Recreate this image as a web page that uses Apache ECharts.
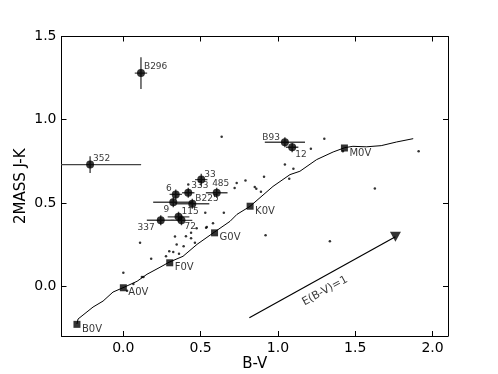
<!DOCTYPE html>
<html>
<head>
<meta charset="utf-8">
<script src="https://cdn.jsdelivr.net/npm/echarts@6/dist/echarts.min.js"></script>
<style>
html, body { margin: 0; padding: 0; background: #fff; }
#chart { width: 498px; height: 374px; }
</style>
</head>
<body>
<div id="chart"></div>
<script>
'use strict';

var xTicks = [0, 0.5, 1.0, 1.5, 2.0];
var yTicks = [0, 0.5, 1.0, 1.5];

// intrinsic colours of dwarfs
var sptNames = ['B0V', 'A0V', 'F0V', 'G0V', 'K0V', 'M0V'];
var sptBV = [-0.30, 0.00, 0.30, 0.59, 0.82, 1.43];
var sptJK = [-0.23, -0.01, 0.14, 0.32, 0.48, 0.83];

// main sequence track
var seqBV = [-0.30, -0.293, -0.196, -0.131, -0.067, 0.005, 0.089, 0.153, 0.237, 0.295, 0.386, 0.477,
    0.541, 0.587, 0.69, 0.735, 0.819, 0.968, 1.078, 1.142, 1.25, 1.357, 1.433, 1.485, 1.571, 1.668, 1.767, 1.875];
var seqJK = [-0.228, -0.198, -0.126, -0.090, -0.036, -0.007, 0.029, 0.071, 0.113, 0.143, 0.179, 0.251,
    0.293, 0.323, 0.389, 0.431, 0.479, 0.599, 0.670, 0.69, 0.76, 0.806, 0.832, 0.84, 0.837, 0.844, 0.866, 0.886];

// labelled stars with errors
var starNames = ['B296', '352', '33', '333', '485', '6', '9', 'B225', '115', '72', '337', 'B93', '12'];
var starBV = [0.114, -0.215, 0.504, 0.42, 0.604, 0.339, 0.323, 0.446, 0.357, 0.376, 0.242, 1.045, 1.092];
var starJK = [1.28, 0.73, 0.64, 0.561, 0.561, 0.551, 0.504, 0.495, 0.416, 0.395, 0.396, 0.864, 0.834];
var starBVErr = [0.04, 0.33, 0.04, 0.04, 0.07, 0.04, 0.13, 0.11, 0.07, 0.07, 0.09, 0.13, 0.04];
var starJKErr = [0.095, 0.05, 0.035, 0.03, 0.03, 0.03, 0.03, 0.03, 0.03, 0.03, 0.03, 0.03, 0.03];

// field stars
var fieldBV = [0.636, 1.30, 1.213, 1.045, 1.10, 1.073, 0.91, 0.79, 0.733, 0.72, 0.85, 0.86, 0.89, 0.53,
    0.65, 0.535, 0.58, 1.91, 1.627, 1.336, 0.92, 0.42, 0.474, 0.438, 0.54, 0.334, 0.405, 0.438, 0.345,
    0.39, 0.463, 0.108, 0.297, 0.323, 0.276, 0.36, 0.18, 0.12, 0.13, 0.065, 0.0, 1.42, 0.024];
var fieldJK = [0.897, 0.886, 0.825, 0.73, 0.705, 0.645, 0.657, 0.635, 0.62, 0.59, 0.595, 0.585, 0.567, 0.44,
    0.44, 0.35, 0.377, 0.81, 0.587, 0.27, 0.305, 0.61, 0.347, 0.32, 0.355, 0.298, 0.30, 0.287, 0.25,
    0.24, 0.26, 0.26, 0.21, 0.205, 0.18, 0.195, 0.165, 0.055, 0.055, 0.012, 0.08, 0.81, -0.028];

// reddening vector E(B-V)=1
var reddenBV = [0.815, 1.76];
var reddenJK = [-0.19, 0.296];
var reddenText = 'E(B-V)=1';

var FONT = 'DejaVu Sans';

// label placement around each star: [dx, dy, align]
var starLabelPos = {
    'B296': [3, -6, 'left'], '352': [3, -6, 'left'], '33': [3, -5, 'left'], '333': [3, -7, 'left'],
    '485': [4, -9, 'center'], '6': [-4, -6, 'right'], '9': [-4, 7, 'right'], 'B225': [3, -5, 'left'],
    '115': [3, -5, 'left'], '72': [3, 6, 'left'], '337': [-6, 7, 'right'], 'B93': [-5, -5, 'right'],
    '12': [3, 7, 'left']
};

function zip(a, b) {
    return a.map(function (v, i) { return [v, b[i]]; });
}

var chart = echarts.init(document.getElementById('chart'));

var starData = starNames.map(function (n, i) {
    var p = starLabelPos[n];
    return {
        name: n,
        value: [starBV[i], starJK[i]],
        label: { show: true, formatter: n, position: 'inside', offset: [p[0], p[1]], align: p[2],
            verticalAlign: 'middle', color: '#000', fontSize: 9, fontFamily: FONT }
    };
});

var sptData = sptNames.map(function (n, i) {
    return { name: n, value: [sptBV[i], sptJK[i]] };
});

var errData = starBV.map(function (v, i) {
    return [v, starJK[i], starBVErr[i], starJKErr[i]];
});

function mirrorAxis(pos, ticks, min, max) {
    return {
        type: 'value', position: pos, min: min, max: max,
        axisLine: { show: true, onZero: false, lineStyle: { color: '#000', width: 1 } },
        axisTick: { show: true, inside: true, length: 5, customValues: ticks, lineStyle: { color: '#000' } },
        axisLabel: { show: false },
        splitLine: { show: false }
    };
}

var option = {
    backgroundColor: '#fff',
    animation: false,
    grid: { left: 61.5, right: 50, top: 36.5, bottom: 38, outerBoundsMode: 'none', containLabel: false },
    xAxis: [
        {
            type: 'value', min: -0.4, max: 2.1, position: 'bottom',
            name: 'B-V', nameLocation: 'middle', nameGap: 21, nameMoveOverlap: false,
            nameTextStyle: { fontSize: 15, color: '#000', fontFamily: FONT },
            axisLine: { show: true, onZero: false, lineStyle: { color: '#000', width: 1 } },
            axisTick: { show: true, inside: true, length: 5, customValues: xTicks, lineStyle: { color: '#000' } },
            axisLabel: { customValues: xTicks, margin: 5, fontSize: 14, color: '#000', fontFamily: FONT,
                formatter: function (v) { return v.toFixed(1); } },
            splitLine: { show: false }
        },
        mirrorAxis('top', xTicks, -0.4, 2.1)
    ],
    yAxis: [
        {
            type: 'value', min: -0.3, max: 1.5, position: 'left',
            name: '2MASS J-K', nameLocation: 'middle', nameGap: 33, nameRotate: 90, nameMoveOverlap: false,
            nameTextStyle: { fontSize: 15, color: '#000', fontFamily: FONT },
            axisLine: { show: true, onZero: false, lineStyle: { color: '#000', width: 1 } },
            axisTick: { show: true, inside: true, length: 5, customValues: yTicks, lineStyle: { color: '#000' } },
            axisLabel: { customValues: yTicks, margin: 5, fontSize: 14, color: '#000', fontFamily: FONT,
                formatter: function (v) { return v.toFixed(1); } },
            splitLine: { show: false }
        },
        mirrorAxis('right', yTicks, -0.3, 1.5)
    ],
    series: [
        {
            type: 'line', data: zip(seqBV, seqJK), showSymbol: false, smooth: false,
            lineStyle: { color: '#000', width: 1 }, z: 2, silent: true
        },
        {
            type: 'scatter', data: sptData, symbol: 'rect', symbolSize: 7,
            itemStyle: { color: '#000' }, z: 4,
            label: { show: true, formatter: '{b}', position: 'inside', offset: [5, 5], align: 'left',
                verticalAlign: 'middle', color: '#000', fontSize: 10, fontFamily: FONT }
        },
        {
            type: 'scatter', data: zip(fieldBV, fieldJK), symbol: 'circle', symbolSize: 2.5,
            itemStyle: { color: '#000' }, z: 3
        },
        {
            type: 'custom', data: errData, clip: true, z: 3,
            encode: { x: 0, y: 1 },
            renderItem: function (params, api) {
                var x = api.value(0), y = api.value(1), ex = api.value(2), ey = api.value(3);
                var l = api.coord([x - ex, y]), r = api.coord([x + ex, y]);
                var t = api.coord([x, y + ey]), b = api.coord([x, y - ey]);
                var st = { stroke: '#444', lineWidth: 1.4 };
                return {
                    type: 'group',
                    children: [
                        { type: 'line', shape: { x1: l[0], y1: l[1], x2: r[0], y2: r[1] }, style: st },
                        { type: 'line', shape: { x1: t[0], y1: t[1], x2: b[0], y2: b[1] }, style: st }
                    ]
                };
            }
        },
        {
            type: 'scatter', data: starData, symbol: 'circle', symbolSize: 8,
            itemStyle: { color: '#000' }, z: 5
        },
        {
            type: 'line', data: zip(reddenBV, reddenJK), showSymbol: false,
            lineStyle: { color: '#000', width: 1.2 }, z: 3
        },
        {
            type: 'scatter', data: [[reddenBV[1], reddenJK[1]]], symbol: 'triangle', symbolRotate: 180,
            symbolSize: [11, 10], itemStyle: { color: '#000' }, z: 4
        },
        {
            type: 'scatter', data: [[1.304, -0.029]], symbolSize: 0, z: 4,
            label: { show: true, formatter: reddenText, position: 'inside', rotate: 29,
                color: '#000', fontSize: 11, fontFamily: FONT }
        }
    ]
};

chart.setOption(option);
</script>
</body>
</html>
